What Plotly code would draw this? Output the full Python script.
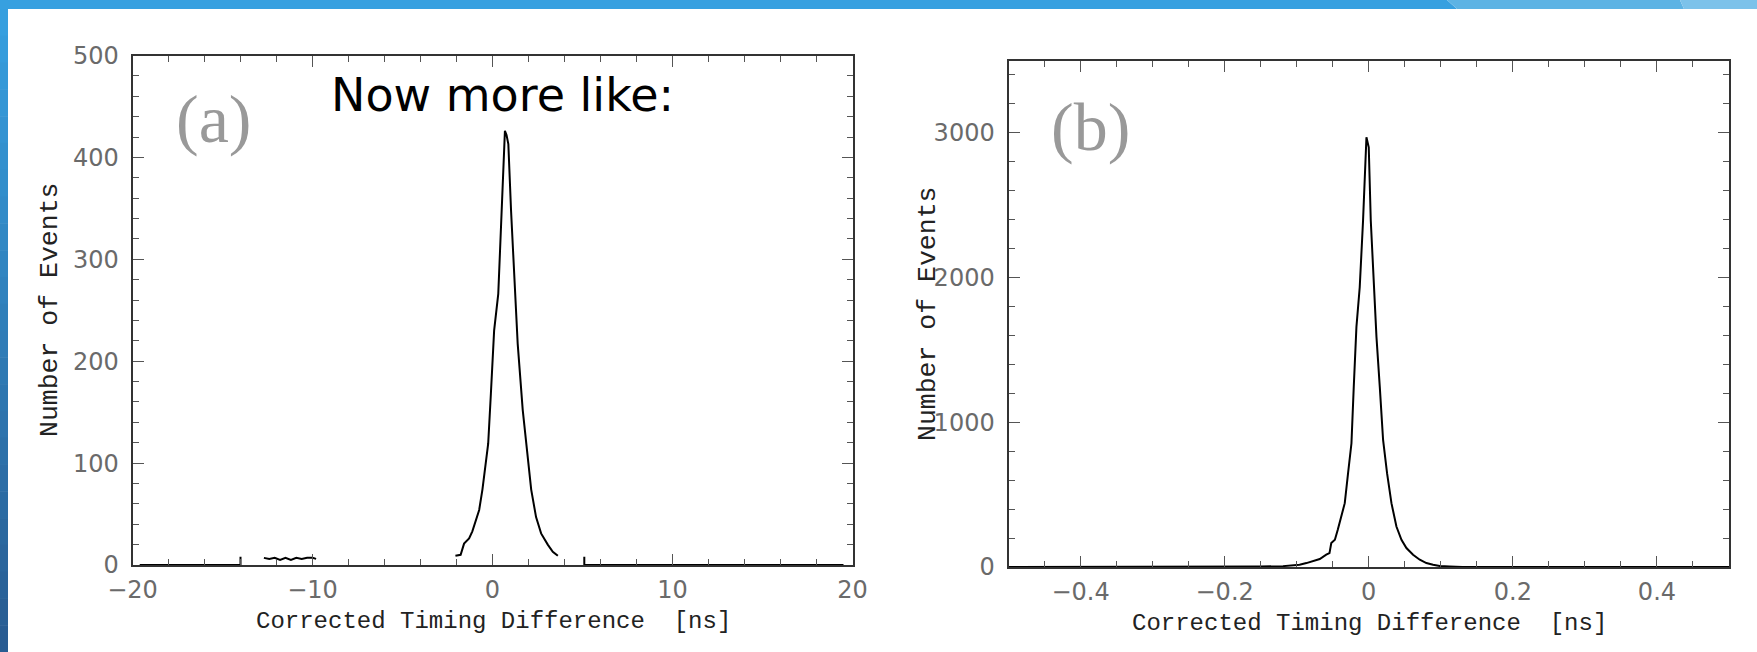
import plotly.graph_objects as go

# ---------------- data ----------------
# panel (a): corrected timing difference [ns] vs number of events
a_peak_x = [-2.06, -1.77, -1.58, -1.30, -1.12, -0.93, -0.74, -0.56, -0.37, -0.24, -0.09, 0.09,
            0.32, 0.50, 0.69, 0.78, 0.88, 1.03, 1.21, 1.40, 1.68, 1.87, 2.15, 2.42, 2.70, 3.07,
            3.35, 3.63]
a_peak_y = [9, 10, 21, 26, 33, 44, 54, 74, 103, 119, 168, 230,
            266, 338, 426, 422, 413, 348, 283, 217, 152, 119, 74, 47, 31, 20,
            13, 9]
a_left_x = [-19.6, -14.0, -14.0]
a_left_y = [0, 0, 8]
a_noise_x = [-12.7, -12.4, -12.1, -11.8, -11.5, -11.2, -10.9, -10.6, -10.3, -10.0, -9.8]
a_noise_y = [7, 6, 7, 5, 7, 5, 7, 6, 7, 7, 6]
a_right_x = [5.1, 5.1, 19.5]
a_right_y = [8, 0, 0]

# panel (b)
b_x = [-0.5, -0.2, -0.188, -0.15, -0.119, -0.096, -0.0865, -0.077, -0.068, -0.059, -0.0545,
       -0.052, -0.047, -0.043, -0.038, -0.0333, -0.0287, -0.024, -0.0208, -0.0171, -0.0125,
       -0.0079, -0.0032, 0.0, 0.0028, 0.0069, 0.0107, 0.0153, 0.0199, 0.0254, 0.0315, 0.0384,
       0.0454, 0.0523, 0.0615, 0.0708, 0.08, 0.0893, 0.0985, 0.112, 0.13, 0.5]
b_y = [0, 0, 2, 3, 6, 16, 27, 39, 55, 85, 96,
       165, 188, 257, 349, 441, 648, 855, 1246, 1659, 1935,
       2395, 2970, 2900, 2395, 1935, 1590, 1246, 878, 648, 441, 280,
       188, 131, 85, 50, 27, 16, 7, 4, 0, 0]

x_title = "Corrected\u00a0Timing\u00a0Difference\u00a0\u00a0[ns]"
y_title = "Number\u00a0of\u00a0Events"
a_label = "(a)"
b_label = "(b)"
headline = "Now more like:"

# ---------------- figure ----------------
W, H = 1757, 652
fig = go.Figure()

line = dict(color="black", width=2)
for xs, ys in [(a_left_x, a_left_y), (a_noise_x, a_noise_y), (a_peak_x, a_peak_y), (a_right_x, a_right_y)]:
    fig.add_trace(go.Scatter(x=xs, y=ys, mode="lines", line=line, xaxis="x", yaxis="y",
                             showlegend=False, hoverinfo="skip"))
fig.add_trace(go.Scatter(x=b_x, y=b_y, mode="lines", line=line, xaxis="x2", yaxis="y2",
                         showlegend=False, hoverinfo="skip"))


def px_x(p):
    return p / W


def px_y(p):
    return (H - p) / H


tickfont = dict(family="DejaVu Sans, Liberation Sans, sans-serif", size=24, color="#6a6a6a")
common = dict(showgrid=False, zeroline=False, showline=True, linecolor="#333", linewidth=2,
              ticks="inside", ticklen=11, tickwidth=1, tickcolor="#555", mirror="allticks",
              tickfont=tickfont, automargin=False)

fig.update_layout(
    width=W, height=H, autosize=False, margin=dict(l=0, r=0, t=0, b=0, pad=0),
    paper_bgcolor="white", plot_bgcolor="white", showlegend=False,
    xaxis=dict(domain=[px_x(132.5), px_x(852.5)], range=[-20, 20], dtick=10, tick0=0,
               minor=dict(dtick=2, ticklen=6, tickcolor="#555", ticks="inside"),
               anchor="y", ticklabelstandoff=2, **common),
    yaxis=dict(domain=[px_y(565), px_y(55.5)], range=[0, 500], dtick=100, tick0=0,
               minor=dict(dtick=20, ticklen=6, tickcolor="#555", ticks="inside"),
               anchor="x", ticklabelstandoff=7, **common),
    xaxis2=dict(domain=[px_x(1008.5), px_x(1729)], range=[-0.5, 0.5], dtick=0.2, tick0=0,
                minor=dict(dtick=0.05, ticklen=6, tickcolor="#555", ticks="inside"),
                anchor="y2", ticklabelstandoff=2, **common),
    yaxis2=dict(domain=[px_y(567), px_y(60.5)], range=[0, 3500], dtick=1000, tick0=0,
                minor=dict(dtick=200, ticklen=6, tickcolor="#555", ticks="inside"),
                anchor="x2", ticklabelstandoff=7, **common),
)

title_font = dict(family="Liberation Mono, Courier New, monospace", size=24, color="#222")
ytitle_font = dict(family="Liberation Mono, Courier New, monospace", size=26.5, color="#222")
ann = [
    dict(x=px_x(493), y=px_y(621), text=x_title, font=title_font),
    dict(x=px_x(1369), y=px_y(623), text=x_title, font=title_font),
    dict(x=px_x(50), y=px_y(310), text=y_title, font=ytitle_font, textangle=-90),
    dict(x=px_x(928), y=px_y(314), text=y_title, font=ytitle_font, textangle=-90),
    dict(x=px_x(213), y=px_y(119), text=a_label,
         font=dict(family="Liberation Serif, serif", size=68, color="#999")),
    dict(x=px_x(1090), y=px_y(127), text=b_label,
         font=dict(family="Liberation Serif, serif", size=68, color="#999")),
    dict(x=px_x(502), y=px_y(95), text=headline,
         font=dict(family="DejaVu Sans, sans-serif", size=46, color="black")),
]
for a in ann:
    a.update(xref="paper", yref="paper", showarrow=False, xanchor="center", yanchor="middle")
fig.update_layout(annotations=ann)

# decorative slide frame: blue top band and left band
shapes = []
def band_path(pts):
    return "M " + " L ".join(f"{px_x(x)},{px_y(y)}" for x, y in pts) + " Z"

shapes.append(dict(type="path", path=band_path([(0, 0), (1447, 0), (1457, 9), (0, 9)]),
                   fillcolor="#37a0e0", line=dict(width=0)))
shapes.append(dict(type="path", path=band_path([(1447, 0), (1680, 0), (1684, 9), (1457, 9)]),
                   fillcolor="#5db3e4", line=dict(width=0)))
shapes.append(dict(type="path", path=band_path([(1680, 0), (W, 0), (W, 9), (1684, 9)]),
                   fillcolor="#7cc2ea", line=dict(width=0)))
top_c = (0x36, 0x9f, 0xdf)
bot_c = (0x28, 0x5c, 0x92)
n = 24
y0 = 9
for i in range(n):
    t = i / (n - 1)
    c = tuple(round(top_c[k] + (bot_c[k] - top_c[k]) * t) for k in range(3))
    ya = y0 + (H - y0) * i / n
    yb = y0 + (H - y0) * (i + 1) / n + 0.5
    shapes.append(dict(type="rect", xref="paper", yref="paper", x0=0, x1=px_x(8),
                       y0=px_y(yb), y1=px_y(ya), fillcolor="rgb(%d,%d,%d)" % c,
                       line=dict(width=0)))
for s in shapes:
    s.setdefault("xref", "paper")
    s.setdefault("yref", "paper")
fig.update_layout(shapes=shapes)

fig.write_html("out.html", config={"displayModeBar": False},
               post_script="document.body.style.margin='0';document.body.style.padding='0';")
